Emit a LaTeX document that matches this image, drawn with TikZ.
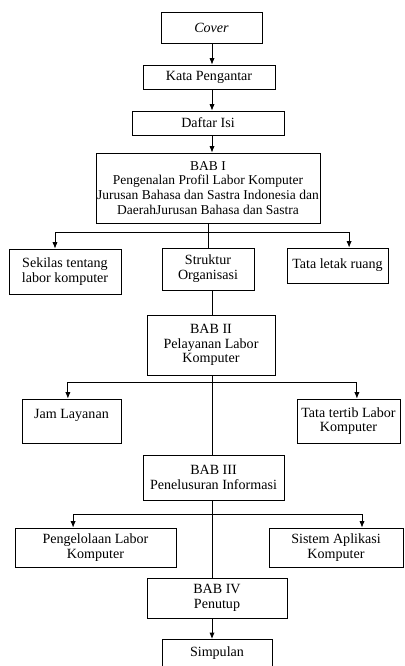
\documentclass[tikz,border=0pt]{standalone}
\usepackage{fontspec}
\setmainfont{Liberation Serif}
\usetikzlibrary{arrows.meta}

\begin{document}
\begin{tikzpicture}[x=0.025cm, y=-0.025cm,
        box/.style={draw, line width=0.6pt, align=center, inner sep=0pt,
            font=\fontsize{10}{10.5}\selectfont},
        arr/.style={line width=0.6pt, -{Latex[length=0.16cm, width=0.13cm]}},
        link/.style={line width=0.6pt}]
        \useasboundingbox (0, 0) rectangle (404, 666);
        \coordinate (axis) at (212, 0);
        % kepala
        \node[box, minimum width=2.525cm, minimum height=0.775cm] (cover) at (211.5, 27.5) {\itshape Cover};
        \node[box, minimum width=3.3cm, minimum height=0.6cm] (kata) at (209, 77) {Kata Pengantar};
        \node[box, minimum width=3.8cm, minimum height=0.6cm] (daftar) at (208, 123) {Daftar Isi};
        \node[box, minimum width=5.6cm, minimum height=1.75cm, font=\fontsize{9.6}{10.6}\selectfont] (bab1) at (208, 188) {BAB I\\Pengenalan Profil Labor Komputer\\Jurusan Bahasa dan Sastra Indonesia dan\\DaerahJurusan Bahasa dan Sastra};
        % bab I
        \node[box, minimum width=2.8cm, minimum height=1.125cm] (sekilas) at (65, 271.5) {Sekilas tentang\\labor komputer};
        \node[box, minimum width=2.3cm, minimum height=1.05cm] (struktur) at (208, 269) {Struktur\\Organisasi};
        \node[box, minimum width=2.525cm, minimum height=0.875cm] (letak) at (337.5, 265.5) {Tata letak ruang};
        % bab II
        \node[box, minimum width=3.2cm, minimum height=1.5cm] (bab2) at (211, 345) {BAB II\\Pelayanan Labor\\Komputer};
        \node[box, minimum width=2.475cm, minimum height=1.1cm] (jam) at (71.5, 421) {Jam Layanan\\\mbox{}};
        \node[box, minimum width=2.575cm, minimum height=1.1cm] (tertib) at (348.5, 421) {Tata tertib Labor\\Komputer};
        % bab III
        \node[box, minimum width=3.525cm, minimum height=1.125cm] (bab3) at (213.5, 477.5) {BAB III\\Penelusuran Informasi};
        \node[box, minimum width=4.025cm, minimum height=0.975cm] (kelola) at (95.5, 547.5) {Pengelolaan Labor\\Komputer};
        \node[box, minimum width=3.35cm, minimum height=0.975cm] (sistem) at (336, 547.5) {Sistem Aplikasi\\Komputer};
        % bab IV
        \node[box, minimum width=3.5cm, minimum height=1cm] (bab4) at (217, 598) {BAB IV\\Penutup};
        \node[box, minimum width=2.75cm, minimum height=0.9cm, anchor=north] (simpulan) at (217, 639) {\rule{0pt}{12pt}Simpulan\\[8pt]\mbox{}};

        % panah utama
        \draw[arr] (cover.south -| axis) -- (kata.north -| axis);
        \draw[arr] (kata.south -| axis) -- (daftar.north -| axis);
        \draw[arr] (daftar.south -| axis) -- (bab1.north -| axis);
        \draw[link] (bab1.south) -- (struktur.north);
        \draw[link] (struktur.south -| axis) -- (bab2.north -| axis);
        \draw[link] (bab2.south -| axis) -- (bab3.north -| axis);
        \draw[link] (bab3.south -| axis) -- (bab4.north -| axis);
        \draw[arr] (bab4.south -| axis) -- (simpulan.north -| axis);

        % cabang
        \coordinate (c1) at (208, 232);
        \draw[arr] (c1) -| ([xshift=-0.25cm]sekilas.north);
        \draw[arr] (c1) -| ([xshift=0.29cm]letak.north);
        \coordinate (c2) at (212, 382);
        \draw[arr] (c2) -| ([xshift=-0.09cm]jam.north);
        \draw[arr] (c2) -| ([xshift=0.21cm]tertib.north);
        \coordinate (c3) at (212, 514);
        \draw[arr] (c3) -| ([xshift=-0.56cm]kelola.north);
        \draw[arr] (c3) -| ([xshift=0.65cm]sistem.north);
\end{tikzpicture}
\end{document}
